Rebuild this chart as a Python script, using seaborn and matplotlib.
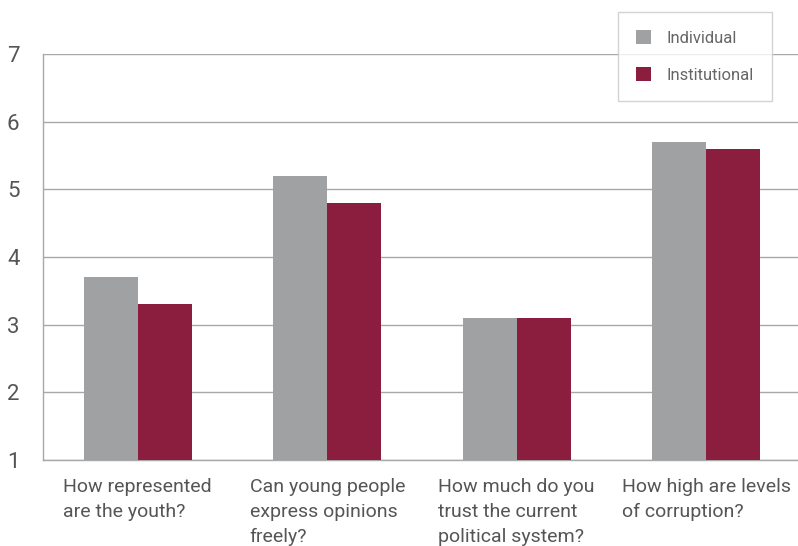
import matplotlib
matplotlib.use("Agg")
import matplotlib.pyplot as plt
import matplotlib.patches as mpatches
import seaborn as sns
import pandas as pd

categories = ["How represented\nare the youth?",
              "Can young people\nexpress opinions\nfreely?",
              "How much do you\ntrust the current\npolitical system?",
              "How high are levels\nof corruption?"]
series_names = ["Individual", "Institutional"]
individual = [3.7, 5.2, 3.1, 5.7]
institutional = [3.3, 4.8, 3.1, 5.6]
y_ticks = [1, 2, 3, 4, 5, 6, 7]

colors = {"Individual": "#a0a1a3", "Institutional": "#8b1e3f"}

df = pd.DataFrame({
    "category": categories * 2,
    "series": [series_names[0]] * 4 + [series_names[1]] * 4,
    "value": individual + institutional,
})

sns.set_style("white")
fonts = ["Roboto", "DejaVu Sans"]
plt.rcParams["font.family"] = fonts

fig = plt.figure(figsize=(7.98, 5.46), dpi=100)
ax = fig.add_axes([43 / 798, 1 - 460 / 546, 758 / 798, 406 / 546])

sns.barplot(data=df, x="category", y="value", hue="series", order=categories,
            hue_order=series_names, palette=colors, width=0.57, linewidth=0,
            saturation=1, ax=ax, legend=False, zorder=3)

ax.set_ylim(1, 7)
ax.set_xlim(-0.5, 3.5)
ax.set_yticks(y_ticks)
ax.set_yticklabels([str(t) for t in y_ticks])
ax.yaxis.grid(True, color="#a8a8a8", linewidth=1.0, zorder=0)
ax.set_axisbelow(True)
ax.tick_params(axis="y", length=9, width=1, color="#a8a8a8", labelsize=16,
               labelcolor="#555555", pad=8)
ax.set_xlabel("")
ax.set_ylabel("")

ax.set_xticks([0, 1, 2, 3])
ax.set_xticklabels(categories, fontsize=14, color="#555555", linespacing=1.5,
                   multialignment="left", va="top")
ax.tick_params(axis="x", length=0, pad=13)
ax.set_xticks([-0.5, 0.5, 1.5, 2.5, 3.5], minor=True)
ax.tick_params(axis="x", which="minor", length=8, width=1, color="#a8a8a8")

for s in ["top", "right"]:
    ax.spines[s].set_visible(False)
for s in ["left", "bottom"]:
    ax.spines[s].set_color("#a8a8a8")
    ax.spines[s].set_linewidth(1.0)

handles = [mpatches.Patch(facecolor=colors[n], edgecolor="none", label=n)
           for n in series_names]
leg = fig.legend(handles=handles, loc="upper left",
                 bbox_to_anchor=(618 / 798, 1 - 12 / 546),
                 frameon=True, fancybox=False, fontsize=12,
                 handlelength=0.9, handleheight=0.9, handletextpad=0.9,
                 labelspacing=1.25, borderpad=1.1, borderaxespad=0)
leg.get_frame().set_edgecolor("#c8c8c8")
leg.get_frame().set_linewidth(1.0)
for t in leg.get_texts():
    t.set_color("#666666")

fig.savefig("out.png", dpi=100)
